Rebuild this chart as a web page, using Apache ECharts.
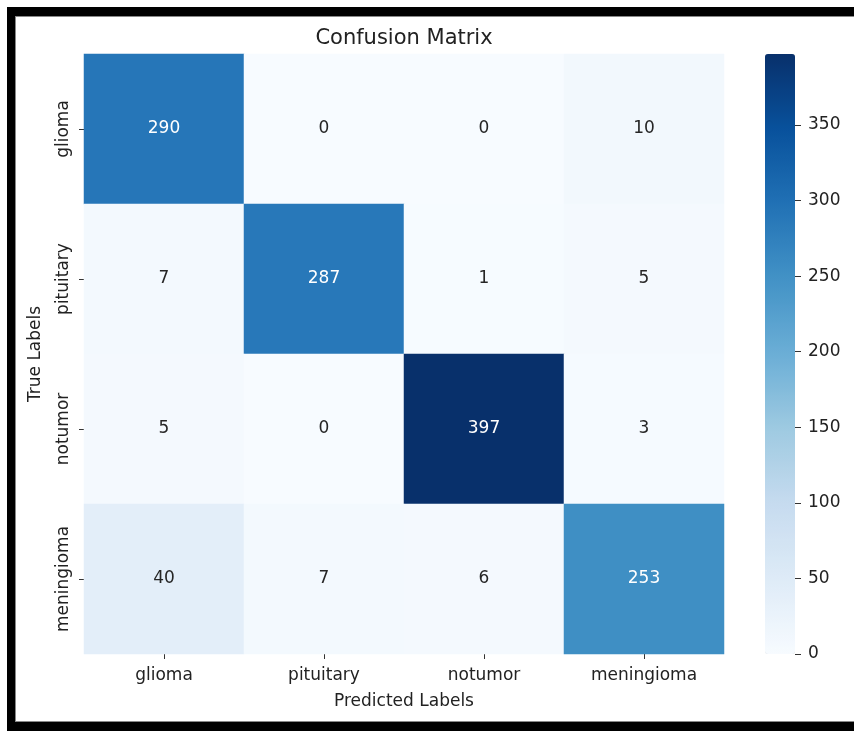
<!DOCTYPE html>
<html>
<head>
<meta charset="utf-8">
<script src="https://cdn.jsdelivr.net/npm/echarts@6/dist/echarts.min.js"></script>
<style>
html,body{margin:0;padding:0;background:#fff;overflow:hidden;}
#frame{position:absolute;left:7px;top:7px;width:847px;height:724px;background:#000;}
#inner{position:absolute;left:15px;top:16px;width:839px;height:706px;background:#fff;box-sizing:border-box;border-top:1px solid #888;border-left:1px solid #888;border-bottom:1px solid #888;}
#c{position:absolute;left:0;top:0;width:854px;height:731px;}
</style>
</head>
<body>
<div id="frame"></div>
<div id="inner"></div>
<div id="c"></div>
<script>
var categories = ['glioma', 'pituitary', 'notumor', 'meningioma'];
var rowGlioma = [290, 0, 0, 10];
var rowPituitary = [7, 287, 1, 5];
var rowNotumor = [5, 0, 397, 3];
var rowMeningioma = [40, 7, 6, 253];
var colorTicks = [0, 50, 100, 150, 200, 250, 300, 350];
var vMin = 0, vMax = 397;

var rows = [rowGlioma, rowPituitary, rowNotumor, rowMeningioma];
var blues = ['#f7fbff', '#deebf7', '#c6dbef', '#9ecae1', '#6baed6', '#4292c6', '#2171b5', '#08519c', '#08306b'];
var FONT = 'DejaVu Sans';

var data = [];
rows.forEach(function (row, yi) {
  row.forEach(function (v, xi) {
    data.push({
      value: [xi, yi, v],
      label: { color: v > vMax * 0.5 ? '#ffffff' : '#262626' }
    });
  });
});

var chart = echarts.init(document.getElementById('c'), null, { renderer: 'canvas' });
chart.setOption({
  backgroundColor: 'rgba(0,0,0,0)',
  animation: false,
  title: {
    text: 'Confusion Matrix',
    left: 404,
    top: 28,
    textAlign: 'center',
    padding: 0,
    textStyle: { fontFamily: FONT, fontSize: 21, fontWeight: 'normal', color: '#222' }
  },
  grid: [
    { left: 84, top: 54, width: 640, height: 600 },
    { left: 795, top: 54, width: 1, height: 600 }
  ],
  xAxis: [
    {
      type: 'category', data: categories, gridIndex: 0,
      name: 'Predicted Labels', nameLocation: 'middle', nameGap: 39,
      nameTextStyle: { fontFamily: FONT, fontSize: 17, color: '#222' },
      axisLine: { show: false },
      axisTick: { show: true, alignWithLabel: true, length: 5, lineStyle: { color: '#333' } },
      axisLabel: { fontFamily: FONT, fontSize: 17, color: '#222', margin: 13 },
      splitLine: { show: false }
    },
    { type: 'value', gridIndex: 1, show: false }
  ],
  yAxis: [
    {
      type: 'category', data: categories, gridIndex: 0, inverse: true,
      name: 'True Labels', nameLocation: 'middle', nameGap: 40,
      nameTextStyle: { fontFamily: FONT, fontSize: 17, color: '#222' },
      axisLine: { show: false },
      axisTick: { show: true, alignWithLabel: true, length: 5, lineStyle: { color: '#333' } },
      axisLabel: { fontFamily: FONT, fontSize: 17, color: '#222', rotate: 90, margin: 12 },
      splitLine: { show: false }
    },
    {
      type: 'value', gridIndex: 1, min: vMin, max: vMax, position: 'right',
      axisLine: { show: false },
      axisTick: { show: true, length: 6, lineStyle: { color: '#333' }, customValues: colorTicks },
      axisLabel: { fontFamily: FONT, fontSize: 17, color: '#222', margin: 12, customValues: colorTicks },
      splitLine: { show: false }
    }
  ],
  visualMap: {
    type: 'continuous',
    min: vMin, max: vMax,
    calculable: false,
    hoverLink: false,
    orient: 'vertical',
    left: 765, top: 54,
    padding: 0,
    itemWidth: 30, itemHeight: 600,
    text: null,
    showLabel: false,
    seriesIndex: 0,
    inRange: { color: blues }
  },
  series: [{
    type: 'heatmap',
    xAxisIndex: 0, yAxisIndex: 0,
    data: data,
    label: { show: true, fontFamily: FONT, fontSize: 17 },
    itemStyle: { borderWidth: 0 },
    emphasis: { disabled: true }
  }]
});
</script>
</body>
</html>
